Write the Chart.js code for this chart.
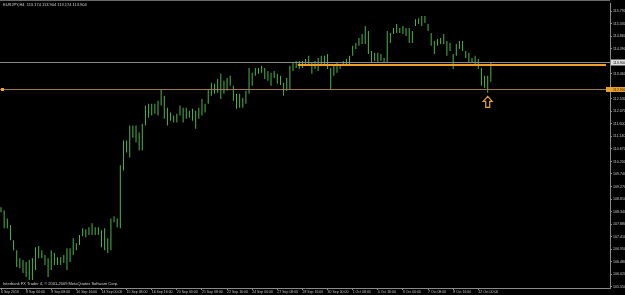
<!DOCTYPE html>
<html>
<head>
<meta charset="utf-8">
<script src="https://cdn.jsdelivr.net/npm/chart.js@4"></script>
<style>
  html, body { margin: 0; padding: 0; background: #000; }
  canvas { display: block; }
</style>
</head>
<body>
<canvas id="chart" width="625" height="295"></canvas>
<script>
// EURJPY H4 bars (high / low per bar)
const HIGHS = [
  108.50, 108.39, 108.09, 107.84, 107.28, 106.91, 106.61, 106.54, 106.47, 106.54,
  106.61, 107.02, 107.06, 106.91, 106.73, 106.61, 106.91, 106.80, 106.65, 106.65,
  106.73, 106.98, 106.98, 107.35, 107.17, 107.47, 107.72, 107.69, 107.76, 107.91,
  107.76, 107.76, 107.65, 107.72, 107.35, 108.09, 108.17, 108.09, 110.06, 110.98,
  110.98, 111.54, 111.54, 111.54, 111.28, 111.61, 112.28, 112.35, 112.35, 112.35,
  112.46, 112.90, 112.65, 112.20, 112.02, 111.91, 111.98, 112.28, 112.20, 112.20,
  112.09, 112.16, 112.09, 112.20, 112.53, 112.35, 112.90, 113.13, 113.09, 113.27,
  113.46, 113.20, 113.31, 113.39, 113.02, 112.72, 112.72, 112.57, 112.83, 113.68,
  113.50, 113.68, 113.68, 113.76, 113.68, 113.57, 113.50, 113.57, 113.46, 113.39,
  113.13, 113.31, 113.76, 113.87, 113.94, 113.94, 113.94, 114.01, 114.13, 113.87,
  113.94, 114.05, 114.13, 114.13, 114.20, 113.68, 113.76, 113.87, 113.83, 113.94,
  114.01, 114.13, 114.50, 114.61, 114.79, 114.94, 115.24, 115.05, 114.31, 114.24,
  114.24, 114.20, 114.05, 115.05, 114.98, 115.16, 115.31, 115.16, 115.24, 115.16,
  115.16, 115.05, 115.49, 115.53, 115.61, 115.61, 115.31, 114.98, 114.68, 114.75,
  114.79, 114.94, 114.68, 114.61, 114.20, 114.57, 114.68, 114.68, 114.31, 114.24,
  114.05, 114.13, 114.01, 113.68, 113.39, 113.39, 113.90
];
const LOWS = [
  108.32, 107.72, 107.72, 107.28, 106.91, 106.28, 106.24, 106.06, 105.91, 105.80,
  105.80, 106.17, 106.61, 106.61, 106.36, 105.91, 106.17, 106.36, 106.36, 106.36,
  106.43, 106.17, 106.47, 106.73, 106.91, 107.10, 107.43, 107.39, 107.47, 107.47,
  107.47, 107.47, 107.02, 106.91, 106.80, 106.91, 107.95, 107.76, 107.72, 109.87,
  110.54, 110.35, 111.09, 110.91, 110.61, 110.61, 111.54, 111.83, 111.91, 111.98,
  111.91, 112.28, 111.79, 111.54, 111.72, 111.65, 111.65, 111.91, 111.65, 111.79,
  111.83, 111.72, 111.42, 111.79, 111.91, 112.02, 112.35, 112.65, 112.72, 112.76,
  112.53, 112.72, 112.83, 113.02, 112.46, 112.16, 112.20, 112.20, 112.35, 112.72,
  113.02, 113.39, 113.46, 113.50, 113.27, 113.20, 113.02, 113.31, 113.09, 113.05,
  112.65, 112.83, 112.90, 113.57, 113.68, 113.64, 113.68, 113.76, 113.76, 113.46,
  113.64, 113.57, 113.83, 113.83, 113.64, 112.90, 113.39, 113.50, 113.64, 113.76,
  113.83, 113.83, 114.13, 114.38, 114.50, 114.57, 114.57, 114.20, 113.87, 113.94,
  113.87, 113.94, 113.87, 113.87, 114.61, 114.94, 114.98, 114.98, 114.94, 114.87,
  114.61, 114.61, 115.24, 115.31, 115.24, 115.35, 115.05, 114.50, 114.20, 114.50,
  114.57, 114.57, 114.13, 114.31, 113.64, 114.13, 114.38, 114.31, 114.05, 113.87,
  113.87, 113.76, 113.64, 113.02, 112.94, 112.76, 113.17
];

// time axis: one label every 8 bars, starting at bar 0
const BARS_PER_TICK = 8;
const X_TICK_LABELS = [
  '6 Sep 2010', '8 Sep 00:00', '9 Sep 08:00', '10 Sep 16:00', '14 Sep 00:00',
  '15 Sep 08:00', '16 Sep 16:00', '20 Sep 00:00', '21 Sep 08:00', '22 Sep 16:00',
  '24 Sep 00:00', '27 Sep 08:00', '28 Sep 16:00', '30 Sep 00:00', '1 Oct 08:00',
  '4 Oct 16:00', '6 Oct 00:00', '7 Oct 08:00', '8 Oct 16:00', '12 Oct 00:00'
];

// price axis labels (113.930 and 113.000 sit under the price boxes)
const Y_TICKS = [
  115.79, 115.33, 114.86, 114.39, 113.46, 112.53, 112.07, 111.60, 111.14, 110.67,
  110.20, 109.74, 109.27, 108.81, 108.34, 107.88, 107.41, 106.95, 106.48, 106.02, 105.55
];

// objects on the chart
const HEADER = 'EURJPY,H4  113.174 113.904 113.174 113.904';
const FOOTER = 'Interbank FX Trader 4, \u00a9 2001-2009 MetaQuotes Software Corp.';
const BID = 113.904;
const TREND_LEVEL = 113.79;
const TREND_START_BAR = 94.5;
const SUPPORT_LEVEL = 112.90;
const ARROW_BAR = 155;
const ARROW_PRICE = 112.62;

const bars = LOWS.map((lo, i) => ({ x: i, y: [lo, HIGHS[i]] }));

const mt4Objects = {
    id: 'mt4Objects',
    afterDatasetsDraw(chart) {
        const { ctx, chartArea: a, scales: { x, y } } = chart;
        ctx.save();

        // top frame line
        ctx.strokeStyle = '#6a6a6a';
        ctx.lineWidth = 1;
        ctx.beginPath();
        ctx.moveTo(0, 0.5);
        ctx.lineTo(a.right, 0.5);
        ctx.stroke();

        // bid line
        const yBid = Math.round(y.getPixelForValue(BID)) + 0.5;
        ctx.strokeStyle = '#8a8a8a';
        ctx.beginPath();
        ctx.moveTo(a.left, yBid);
        ctx.lineTo(a.right, yBid);
        ctx.stroke();

        // support line
        const ySup = Math.round(y.getPixelForValue(SUPPORT_LEVEL)) + 0.5;
        ctx.strokeStyle = '#9a7a50';
        ctx.beginPath();
        ctx.moveTo(a.left, ySup);
        ctx.lineTo(a.right, ySup);
        ctx.stroke();
        ctx.fillStyle = '#f0a030';
        ctx.fillRect(1, ySup - 1.5, 3, 3);

        // trend line
        const yTr = y.getPixelForValue(TREND_LEVEL);
        ctx.strokeStyle = '#f0a020';
        ctx.lineWidth = 2;
        ctx.beginPath();
        ctx.moveTo(x.getPixelForValue(TREND_START_BAR), yTr);
        ctx.lineTo(a.right - 4, yTr);
        ctx.stroke();

        // up arrow
        const cx = x.getPixelForValue(ARROW_BAR);
        const ty = y.getPixelForValue(ARROW_PRICE);
        ctx.strokeStyle = '#e8a040';
        ctx.lineWidth = 1.2;
        ctx.beginPath();
        ctx.moveTo(cx, ty);
        ctx.lineTo(cx + 4.5, ty + 5);
        ctx.lineTo(cx + 2, ty + 5);
        ctx.lineTo(cx + 2, ty + 11);
        ctx.lineTo(cx - 2, ty + 11);
        ctx.lineTo(cx - 2, ty + 5);
        ctx.lineTo(cx - 4.5, ty + 5);
        ctx.closePath();
        ctx.stroke();

        // price boxes on the axis
        ctx.font = '3.6px "Liberation Sans"';
        ctx.textBaseline = 'middle';
        ctx.textAlign = 'left';
        ctx.fillStyle = '#e0e0e0';
        ctx.fillRect(a.right + 1, yBid - 3, 20, 6);
        ctx.fillStyle = '#000';
        ctx.fillText(BID.toFixed(3), a.right + 3, yBid);
        ctx.fillStyle = '#e8a030';
        ctx.fillRect(a.right - 4, ySup - 2.5, 25, 5);
        ctx.fillStyle = '#402000';
        ctx.fillText(SUPPORT_LEVEL.toFixed(3), a.right + 3, ySup);

        // header and copyright
        ctx.fillStyle = '#d0d0d0';
        ctx.font = '4px "Liberation Sans"';
        ctx.fillText(HEADER, 3, 5);
        ctx.fillText(FOOTER, 3, a.bottom - 4);
        ctx.restore();
    }
};

new Chart(document.getElementById('chart'), {
    type: 'bar',
    data: {
        datasets: [{
            data: bars,
            backgroundColor: '#4cb44c',
            barThickness: 1,
            inflateAmount: 0,
            borderWidth: 0,
        }],
    },
    options: {
        responsive: false,
        animation: false,
        layout: { padding: { top: 2, left: 0, right: 0, bottom: 0 }, autoPadding: false },
        plugins: { legend: { display: false }, tooltip: { enabled: false } },
        scales: {
            x: {
                type: 'linear',
                offset: false,
                min: -0.32,
                max: 193.95,
                afterBuildTicks: s => { s.ticks = X_TICK_LABELS.map((_, k) => ({ value: k * BARS_PER_TICK })); },
                afterFit: s => { s.height = 7; },
                grid: { drawOnChartArea: false, offset: false, tickLength: 2, color: '#8a8a8a' },
                border: { color: '#8a8a8a' },
                ticks: {
                    autoSkip: false,
                    maxRotation: 0,
                    align: 'start',
                    padding: 0,
                    color: '#c0c0c0',
                    font: { size: 3.5, family: 'Liberation Sans' },
                    callback: v => X_TICK_LABELS[Math.round(v / BARS_PER_TICK)] || '',
                },
            },
            y: {
                position: 'right',
                min: 105.504,
                max: 116.086,
                afterBuildTicks: s => { s.ticks = Y_TICKS.map(v => ({ value: v })); },
                afterFit: s => { s.width = 15; },
                grid: { drawOnChartArea: false, tickLength: 2, color: '#8a8a8a' },
                border: { color: '#8a8a8a' },
                ticks: {
                    padding: 1,
                    color: '#c8c8c8',
                    font: { size: 3.6, family: 'Liberation Sans' },
                    callback: v => Number(v).toFixed(3),
                },
            },
        },
    },
    plugins: [mt4Objects],
});
</script>
</body>
</html>
